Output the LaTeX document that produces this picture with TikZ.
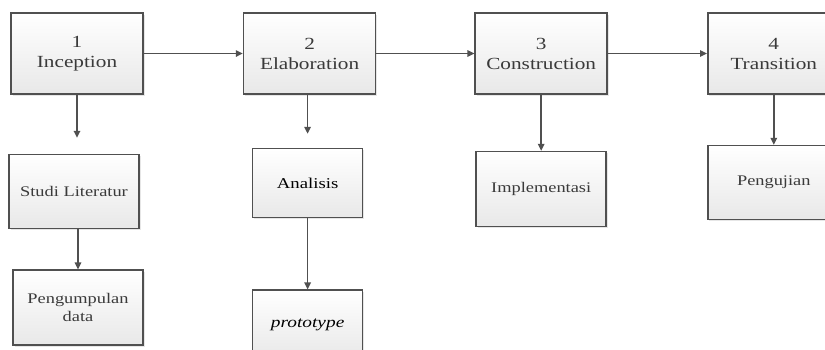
\documentclass[tikz,border=0pt]{standalone}
\usepackage{fontspec}
\setmainfont{Liberation Serif}[FakeStretch=1.25]
\usetikzlibrary{positioning, calc, arrows.meta, shadows}

\definecolor{boxline}{HTML}{505050}
\definecolor{boxtext}{HTML}{3A3A3A}

\begin{document}
\begin{tikzpicture}[
  >=Triangle,
  phase/.style={rectangle, draw=boxline, line width=1.6pt, top color=white, bottom color=black!9, align=center, minimum width=132pt, minimum height=81pt, text=boxtext, font=\fontsize{17}{20}\selectfont, drop shadow={shadow xshift=1.5pt, shadow yshift=-1.5pt, opacity=0.2}},
  task/.style={rectangle, draw=boxline, line width=1.6pt, top color=white, bottom color=black!9, align=center, minimum width=130pt, minimum height=75pt, text=boxtext, font=\fontsize{14.7}{18}\selectfont, drop shadow={shadow xshift=1.5pt, shadow yshift=-1.5pt, opacity=0.2}},
  arrow/.style={-{Triangle[length=7pt, width=6.5pt]}, line width=1.5pt, draw=boxline}
]
\useasboundingbox (0,0) rectangle (825pt,-349pt);

%------------------------------------------------
% Phases
%------------------------------------------------
\node[phase] (inception) at (77pt,-53.5pt) {1\\Inception};
\node[phase, right=99pt of inception] (elaboration) {2\\Elaboration};
\node[phase, right=98pt of elaboration] (construction) {3\\Construction};
\node[phase, right=99pt of construction] (transition) {4\\Transition};

\draw[arrow] (inception) -- (elaboration);
\draw[arrow] (elaboration) -- (construction);
\draw[arrow] (construction) -- (transition);

%------------------------------------------------
% Activities
%------------------------------------------------
\node[task, minimum height=74pt, below=59pt of inception, xshift=-3pt] (studi) {Studi Literatur};
\node[task, below=40pt of studi, xshift=4pt] (pengumpulan) {Pengumpulan\\data};

\node[task, minimum width=110pt, minimum height=69pt, text=black, font=\fontsize{15}{18}\selectfont, below=53pt of elaboration, xshift=-2pt] (analisis) {Analisis};
\node[task, minimum width=110pt, minimum height=69pt, text=black, font=\fontsize{15.5}{18}\selectfont\itshape, below=71pt of analisis] (prototype) {prototype};

\node[task, below=56pt of construction] (implementasi) {Implementasi};
\node[task, minimum width=132pt, minimum height=74pt, below=50pt of transition] (pengujian) {Pengujian};

% Activity arrows
\draw[arrow, shorten >=16pt] (inception.south) -- (inception.south |- studi.north);
\draw[arrow] (pengumpulan.north |- studi.south) -- (pengumpulan.north);
\draw[arrow, shorten >=14pt] (analisis.north |- elaboration.south) -- (analisis.north);
\draw[arrow] (analisis) -- (prototype);
\draw[arrow] (construction.south) -- (construction.south |- implementasi.north);
\draw[arrow] (transition) -- (pengujian);

\end{tikzpicture}
\end{document}
